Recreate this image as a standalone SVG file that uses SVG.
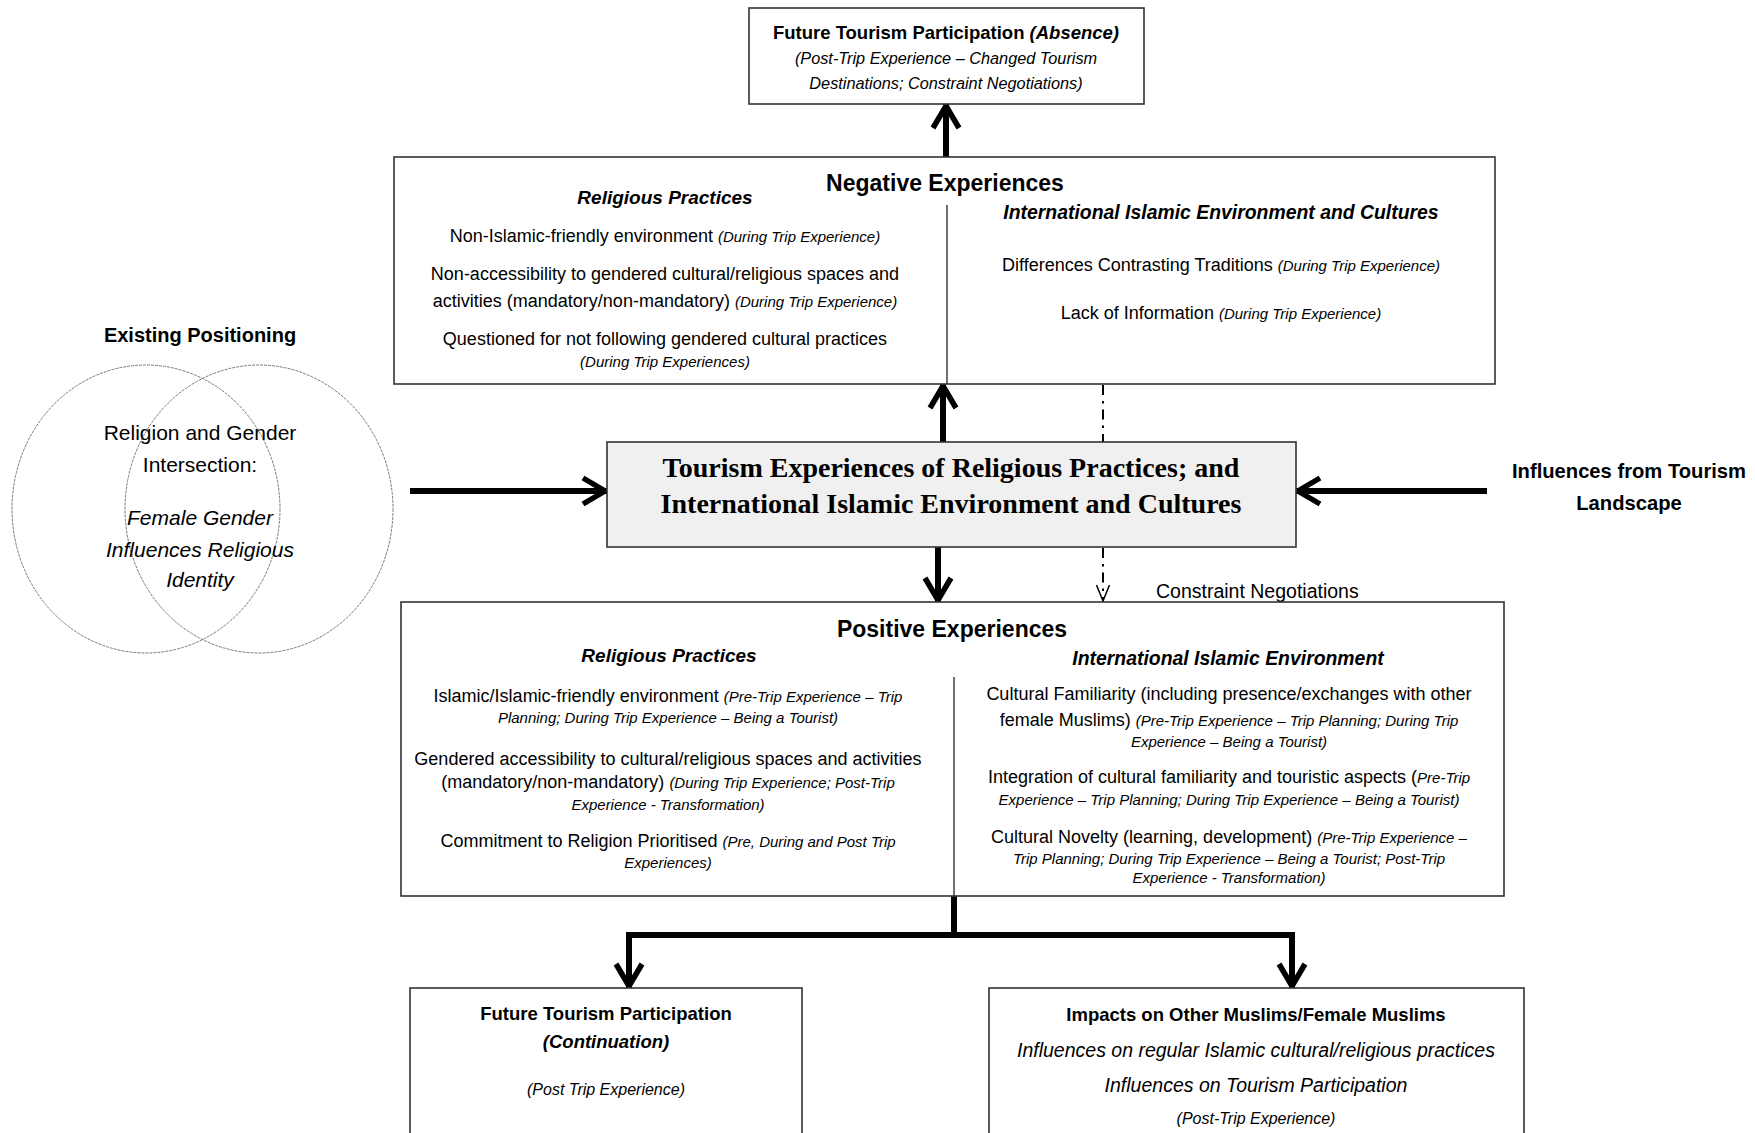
<svg xmlns="http://www.w3.org/2000/svg" width="1755" height="1133" viewBox="0 0 1755 1133">
  <defs>
    <style>
      .box { fill: #ffffff; stroke: #333333; stroke-width: 1.6; }
      .core { fill: #f0f0f0; stroke: #333333; stroke-width: 1.6; }
      .divider { stroke: #333333; stroke-width: 1.4; fill: none; }
      .venn { fill: none; stroke: #7a7a7a; stroke-width: 1; stroke-dasharray: 3 1; }
      .t { font-family: "Liberation Sans", Arial, sans-serif; fill: #000000; text-anchor: middle; }
      .ts { font-family: "Liberation Serif", "Times New Roman", serif; font-weight: bold; fill: #000000; text-anchor: middle; font-size: 28px; }
      .r { font-size: 18px; }
      .b { font-weight: bold; }
      .i { font-style: italic; }
      .s { font-style: italic; font-size: 15px; }
      .h1 { font-weight: bold; font-size: 23px; }
      .h2 { font-weight: bold; font-style: italic; font-size: 19px; }
      .thick { stroke: #000000; stroke-width: 6; fill: none; }
      .dashdot { stroke: #000000; stroke-width: 2; fill: none; stroke-dasharray: 10 6 2.5 6; }
    </style>
    <marker id="chev" markerUnits="userSpaceOnUse" markerWidth="40" markerHeight="40" viewBox="-30 -20 40 40" refX="2" refY="0" orient="auto" overflow="visible">
      <path d="M-22,-13 L0,0 L-22,13" fill="none" stroke="#000" stroke-width="5.5" stroke-linejoin="miter"/>
    </marker>
    <marker id="vee" markerUnits="userSpaceOnUse" markerWidth="24" markerHeight="24" viewBox="-20 -12 24 24" refX="0" refY="0" orient="auto" overflow="visible">
      <path d="M-16,-6.5 L0,0 L-16,6.5" fill="none" stroke="#000" stroke-width="1.5"/>
    </marker>
  </defs>

  <rect width="1755" height="1133" fill="#ffffff"/>

  <!-- connectors -->
  <g id="connectors">
    <line class="thick" x1="946" y1="157" x2="946" y2="104" marker-end="url(#chev)"/>
    <line class="thick" x1="943" y1="442" x2="943" y2="384" marker-end="url(#chev)"/>
    <line class="thick" x1="938" y1="547" x2="938" y2="602" marker-end="url(#chev)"/>
    <line class="thick" x1="410" y1="491" x2="607" y2="491" marker-end="url(#chev)"/>
    <line class="thick" x1="1487" y1="491" x2="1296" y2="491" marker-end="url(#chev)"/>
    <line class="dashdot" x1="1103" y1="385" x2="1103" y2="442"/>
    <line class="dashdot" x1="1103" y1="548" x2="1103" y2="601" marker-end="url(#vee)"/>
    <path class="thick" d="M954,896 V935 M626,935 H1295"/>
    <line class="thick" x1="629" y1="935" x2="629" y2="988" marker-end="url(#chev)"/>
    <line class="thick" x1="1292" y1="935" x2="1292" y2="988" marker-end="url(#chev)"/>
  </g>

  <!-- future participation: absence -->
  <g id="future-absence">
    <rect class="box" x="749" y="8" width="395" height="96"/>
    <text class="t b" x="946" y="39" font-size="18.5">Future Tourism Participation <tspan class="i">(Absence)</tspan></text>
    <text class="t i" x="946" y="64" font-size="16.3">(Post-Trip Experience – Changed Tourism</text>
    <text class="t i" x="946" y="89" font-size="16.3">Destinations; Constraint Negotiations)</text>
  </g>

  <!-- negative experiences -->
  <g id="negative">
    <rect class="box" x="394" y="157" width="1101" height="227"/>
    <line class="divider" x1="947" y1="205" x2="947" y2="384"/>
    <text class="t h1" x="945" y="191">Negative Experiences</text>
    <text class="t h2" x="665" y="204">Religious Practices</text>
    <text class="t r" x="665" y="242">Non-Islamic-friendly environment <tspan class="s">(During Trip Experience)</tspan></text>
    <text class="t r" x="665" y="280">Non-accessibility to gendered cultural/religious spaces and</text>
    <text class="t r" x="665" y="307">activities (mandatory/non-mandatory) <tspan class="s">(During Trip Experience)</tspan></text>
    <text class="t r" x="665" y="345">Questioned for not following gendered cultural practices</text>
    <text class="t s" x="665" y="367">(During Trip Experiences)</text>
    <text class="t h2" x="1221" y="219" font-size="19.4" style="font-size:19.4px">International Islamic Environment and Cultures</text>
    <text class="t r" x="1221" y="271">Differences Contrasting Traditions <tspan class="s">(During Trip Experience)</tspan></text>
    <text class="t r" x="1221" y="319">Lack of Information <tspan class="s">(During Trip Experience)</tspan></text>
  </g>

  <!-- existing positioning -->
  <g id="existing-positioning">
    <text class="t b" x="200" y="342" font-size="20">Existing Positioning</text>
    <ellipse class="venn" cx="146" cy="509" rx="134" ry="144"/>
    <ellipse class="venn" cx="259" cy="509" rx="134" ry="144"/>
    <text class="t" x="200" y="440" font-size="21">Religion and Gender</text>
    <text class="t" x="200" y="472" font-size="21">Intersection:</text>
    <text class="t i" x="200" y="525" font-size="21">Female Gender</text>
    <text class="t i" x="200" y="557" font-size="21">Influences Religious</text>
    <text class="t i" x="200" y="587" font-size="21">Identity</text>
  </g>

  <!-- central experiences -->
  <g id="core-experiences">
    <rect class="core" x="607" y="442" width="689" height="105"/>
    <text class="ts" x="951" y="477">Tourism Experiences of Religious Practices; and</text>
    <text class="ts" x="951" y="513">International Islamic Environment and Cultures</text>
  </g>

  <!-- tourism landscape -->
  <g id="tourism-landscape">
    <text class="t b" x="1629" y="478" font-size="20.2">Influences from Tourism</text>
    <text class="t b" x="1629" y="510" font-size="20.2">Landscape</text>
  </g>

  <!-- constraint negotiations label -->
  <g id="constraint-label">
    <text class="t" x="1156" y="598" font-size="19.5" style="text-anchor:start">Constraint Negotiations</text>
  </g>

  <!-- positive experiences -->
  <g id="positive">
    <rect class="box" x="401" y="602" width="1103" height="294"/>
    <line class="divider" x1="954" y1="677" x2="954" y2="896"/>
    <text class="t h1" x="952" y="637">Positive Experiences</text>
    <text class="t h2" x="669" y="662">Religious Practices</text>
    <text class="t r" x="668" y="702">Islamic/Islamic-friendly environment <tspan class="s">(Pre-Trip Experience – Trip</tspan></text>
    <text class="t s" x="668" y="723">Planning; During Trip Experience – Being a Tourist)</text>
    <text class="t r" x="668" y="765">Gendered accessibility to cultural/religious spaces and activities</text>
    <text class="t r" x="668" y="788">(mandatory/non-mandatory) <tspan class="s">(During Trip Experience; Post-Trip</tspan></text>
    <text class="t s" x="668" y="810">Experience - Transformation)</text>
    <text class="t r" x="668" y="847">Commitment to Religion Prioritised <tspan class="s">(Pre, During and Post Trip</tspan></text>
    <text class="t s" x="668" y="868">Experiences)</text>
    <text class="t h2" x="1228" y="665" style="font-size:19.4px">International Islamic Environment</text>
    <text class="t r" x="1229" y="700">Cultural Familiarity (including presence/exchanges with other</text>
    <text class="t r" x="1229" y="726">female Muslims) <tspan class="s">(Pre-Trip Experience – Trip Planning; During Trip</tspan></text>
    <text class="t s" x="1229" y="747">Experience – Being a Tourist)</text>
    <text class="t r" x="1229" y="783">Integration of cultural familiarity and touristic aspects (<tspan class="s">Pre-Trip</tspan></text>
    <text class="t s" x="1229" y="805">Experience – Trip Planning; During Trip Experience – Being a Tourist)</text>
    <text class="t r" x="1229" y="843">Cultural Novelty (learning, development) <tspan class="s">(Pre-Trip Experience –</tspan></text>
    <text class="t s" x="1229" y="864">Trip Planning; During Trip Experience – Being a Tourist; Post-Trip</text>
    <text class="t s" x="1229" y="883">Experience - Transformation)</text>
  </g>

  <!-- future participation: continuation -->
  <g id="future-continuation">
    <rect class="box" x="410" y="988" width="392" height="160"/>
    <text class="t b" x="606" y="1020" font-size="18.5">Future Tourism Participation</text>
    <text class="t b i" x="606" y="1048" font-size="18.5">(Continuation)</text>
    <text class="t i" x="606" y="1095" font-size="16">(Post Trip Experience)</text>
  </g>

  <!-- impacts on other muslims -->
  <g id="impacts">
    <rect class="box" x="989" y="988" width="535" height="160"/>
    <text class="t b" x="1256" y="1021" font-size="18.5">Impacts on Other Muslims/Female Muslims</text>
    <text class="t i" x="1256" y="1057" font-size="19.5">Influences on regular Islamic cultural/religious practices</text>
    <text class="t i" x="1256" y="1092" font-size="19.5">Influences on Tourism Participation</text>
    <text class="t i" x="1256" y="1124" font-size="16">(Post-Trip Experience)</text>
  </g>
</svg>
